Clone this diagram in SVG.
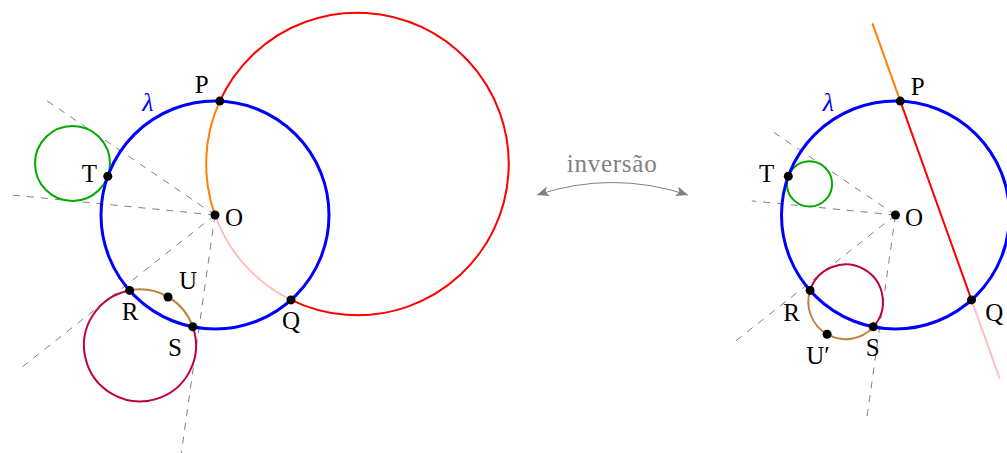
<svg xmlns="http://www.w3.org/2000/svg" width="1007" height="453" viewBox="0 0 1007 453">
<style>
.dash{stroke:#808080;stroke-width:1;stroke-dasharray:7 7;fill:none}
.blue{stroke:#0000FF;stroke-width:3;fill:none}
.red{stroke:#FF0000;stroke-width:2;fill:none}
.orange{stroke:#FF8000;stroke-width:2;fill:none}
.pink{stroke:#FFBFBF;stroke-width:2;fill:none}
.green{stroke:#00AA00;stroke-width:2;fill:none}
.purple{stroke:#BF0040;stroke-width:2;fill:none}
.brown{stroke:#BF8040;stroke-width:2;fill:none}
.dot{fill:#000}
.lbl{font-family:"Liberation Serif","DejaVu Serif",serif;font-size:25px;fill:#000;text-anchor:middle}
.lam{font-family:"Liberation Serif","DejaVu Serif",serif;font-size:26px;font-style:italic;fill:#0000FF;text-anchor:middle}
.inv{font-family:"Liberation Serif","DejaVu Serif",serif;font-size:25px;fill:#808080;text-anchor:middle}
</style>
<defs>
<marker id="ah" viewBox="0 0 12 10" refX="12" refY="5" markerWidth="12" markerHeight="10" markerUnits="userSpaceOnUse" orient="auto-start-reverse">
<path d="M0,0 L12,5 L0,10 L3,5 Z" fill="#808080"/>
</marker>
</defs>

<g id="connectors">
<line class="dash" x1="215" y1="215" x2="43.1" y2="98.1"/>
<line class="dash" x1="215" y1="215" x2="8.4" y2="194.7"/>
<line class="dash" x1="215" y1="215" x2="22.4" y2="366.9"/>
<line class="dash" x1="215" y1="215" x2="181.3" y2="453"/>
<line class="dash" x1="895.5" y1="215" x2="770.1" y2="129.8"/>
<line class="dash" x1="895.5" y1="215" x2="751.8" y2="200.9"/>
<line class="dash" x1="895.5" y1="215" x2="732.1" y2="343.8"/>
<line class="dash" x1="895.5" y1="215" x2="866.3" y2="421.7"/>
<path d="M537,195 Q612,170 688,195" fill="none" stroke="#808080" stroke-width="1" marker-start="url(#ah)" marker-end="url(#ah)"/>
</g>

<g id="left-red-circle">
<path class="red" d="M219.8,101.1 A151.3,151.3 0 1 1 291,299.9"/>
<path class="orange" d="M219.8,101.1 A151.3,151.3 0 0 0 215,215"/>
<path class="pink" d="M215,215 A151.3,151.3 0 0 0 291,299.9"/>
</g>
<g id="left-green-circle"><circle class="green" cx="72.5" cy="163.5" r="37.5"/></g>
<g id="left-purple-circle">
<path class="purple" d="M192.8,326.8 A56,56 0 1 1 129.6,290.4"/>
<path class="brown" d="M129.6,290.4 A56,56 0 0 1 192.8,326.8"/>
</g>
<g id="left-lambda"><circle class="blue" cx="215" cy="215" r="114"/></g>

<g id="right-red-line">
<line class="orange" x1="872.4" y1="23.3" x2="900.3" y2="101.1"/>
<line class="red" x1="900.3" y1="101.1" x2="971.5" y2="299.9"/>
<line class="pink" x1="971.5" y1="299.9" x2="999.6" y2="378.3"/>
</g>
<g id="right-green-circle"><circle class="green" cx="809.5" cy="183.9" r="22.6"/></g>
<g id="right-purple-circle">
<path class="purple" d="M873.3,326.8 A37.3,37.3 0 1 0 810.1,290.4"/>
<path class="brown" d="M810.1,290.4 A37.3,37.3 0 0 0 873.3,326.8"/>
</g>
<g id="right-lambda"><circle class="blue" cx="895.5" cy="215" r="114"/></g>

<g id="left-points">
<circle class="dot" cx="215" cy="215" r="4.5"/>
<circle class="dot" cx="219.8" cy="101.1" r="4.5"/>
<circle class="dot" cx="291" cy="299.9" r="4.5"/>
<circle class="dot" cx="107.8" cy="176.3" r="4.5"/>
<circle class="dot" cx="129.6" cy="290.4" r="4.5"/>
<circle class="dot" cx="192.8" cy="326.8" r="4.5"/>
<circle class="dot" cx="168" cy="297" r="4.5"/>
</g>
<g id="right-points">
<circle class="dot" cx="895.5" cy="215" r="4.5"/>
<circle class="dot" cx="900.3" cy="101.1" r="4.5"/>
<circle class="dot" cx="971.5" cy="299.9" r="4.5"/>
<circle class="dot" cx="788.3" cy="176.3" r="4.5"/>
<circle class="dot" cx="810.1" cy="290.4" r="4.5"/>
<circle class="dot" cx="873.3" cy="326.8" r="4.5"/>
<circle class="dot" cx="827.1" cy="334.3" r="4.5"/>
</g>

<g id="left-labels">
<text class="lam" x="148" y="111">λ</text>
<text class="lbl" x="201.7" y="92.5">P</text>
<text class="lbl" x="234" y="225.5">O</text>
<text class="lbl" x="89.3" y="181.5">T</text>
<text class="lbl" x="188" y="288.5">U</text>
<text class="lbl" x="130" y="319.5">R</text>
<text class="lbl" x="175" y="355.5">S</text>
<text class="lbl" x="291" y="328.5">Q</text>
</g>
<g id="right-labels">
<text class="lam" x="828.3" y="111">λ</text>
<text class="lbl" x="917.7" y="94.5">P</text>
<text class="lbl" x="914" y="225.5">O</text>
<text class="lbl" x="766.7" y="182">T</text>
<text class="lbl" x="791.7" y="320.5">R</text>
<text class="lbl" x="818" y="363.5">U′</text>
<text class="lbl" x="872.7" y="355.5">S</text>
<text class="lbl" x="994.3" y="320.5">Q</text>
</g>
<g id="arrow-label">
<text class="inv" x="611.7" y="172" textLength="90" lengthAdjust="spacing">inversão</text>
</g>
</svg>
